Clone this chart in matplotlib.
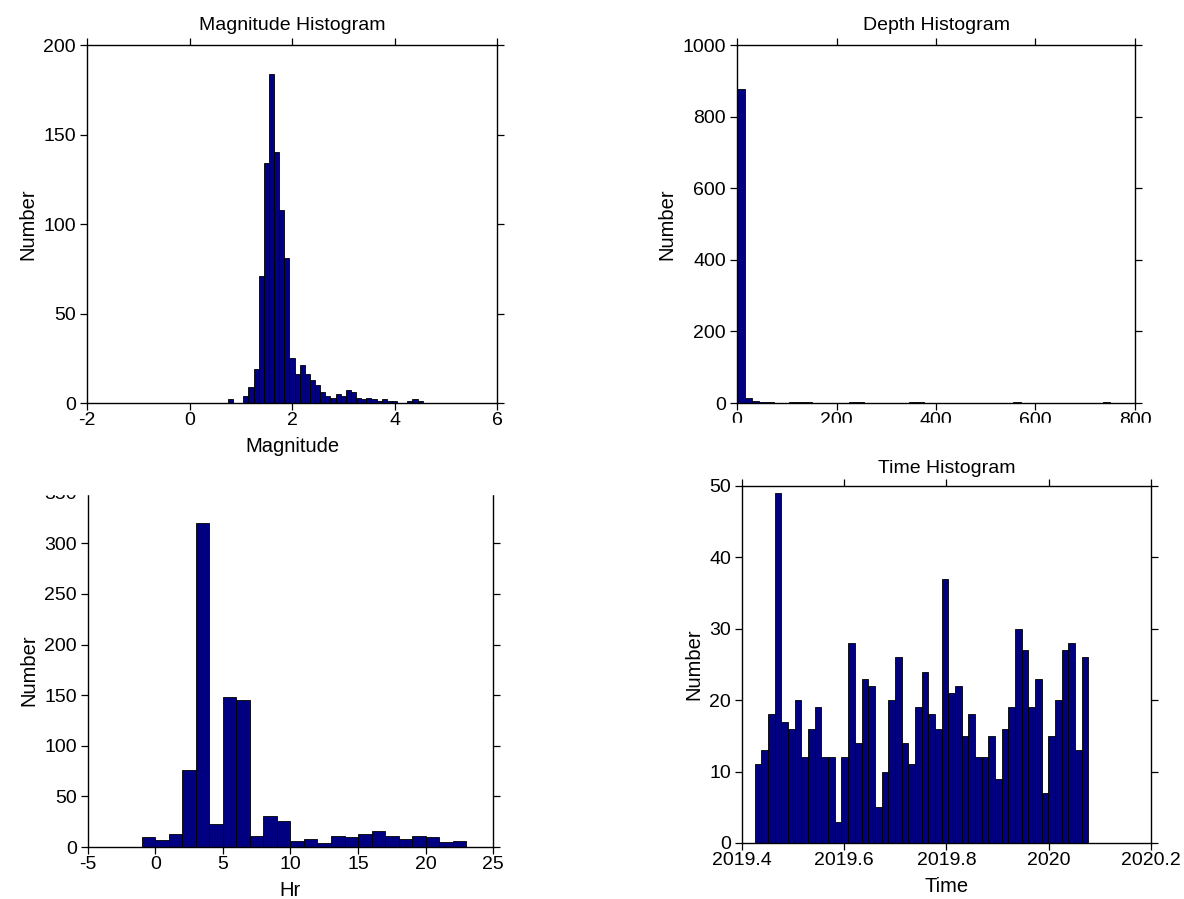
import numpy as np
import matplotlib
matplotlib.use("Agg")
import matplotlib.pyplot as plt
from matplotlib.patches import Rectangle

plt.rcParams['font.family'] = ['Liberation Sans', 'DejaVu Sans']
plt.rcParams['axes.unicode_minus'] = False

# magnitude histogram (bins of 0.1 centred on 0.8 ... 4.5)
mag_centros = np.round(np.arange(0.8, 4.55, 0.1), 1)
mag_contagem = [2, 0, 0, 4, 9, 19, 71, 134, 184, 140, 108, 81, 25, 16, 21, 16,
                13, 10, 6, 4, 3, 5, 4, 7, 6, 3, 2, 3, 2, 1, 2, 1, 1, 0, 0, 1, 2, 1]

# depth histogram (bins of 15 km from 0 to 750)
prof_bordas = np.arange(0, 751, 15)
prof_contagem = [878, 14, 6, 4, 2, 1, 1, 2, 2, 2, 1, 1, 0, 0, 1, 2, 2, 1, 0, 0,
                 0, 0, 1, 2, 2, 1, 0, 0, 0, 0, 0, 0, 0, 0, 0, 0, 1, 2, 1, 0,
                 0, 0, 0, 0, 0, 0, 0, 0, 1, 2]

# hour of day histogram (bins -1..23)
hora_bordas = np.arange(-1, 24, 1)
hora_contagem = [10, 7, 13, 76, 320, 23, 148, 145, 11, 31, 26, 6, 8, 4, 11, 10,
                 13, 16, 11, 8, 11, 10, 5, 6]

# time histogram (50 bins, decimal years)
tempo_inicio = 2019.4248
tempo_fim = 2020.0778
tempo_contagem = [11, 13, 18, 49, 17, 16, 20, 12, 16, 19,
                  12, 12, 3, 12, 28, 14, 23, 22, 5, 10,
                  20, 26, 14, 11, 19, 24, 18, 16, 37, 21,
                  22, 15, 18, 12, 12, 15, 9, 16, 19, 30,
                  27, 19, 23, 7, 15, 20, 27, 28, 13, 26]

cor_barra = '#000080'
fs_tick = 14
fs_label = 14.5
fs_titulo = 14


def estilo(ax):
    ax.tick_params(direction='out', length=5, width=0.9, top=True, right=True,
                   labelsize=fs_tick)
    ax.tick_params(axis='x', pad=1.5)
    ax.tick_params(axis='y', pad=3)
    for s in ax.spines.values():
        s.set_linewidth(1.0)


def barras(ax, bordas, contagem):
    bordas = np.asarray(bordas, dtype=float)
    ax.bar(bordas[:-1], contagem, width=np.diff(bordas), align='edge',
           color=cor_barra, edgecolor='black', linewidth=0.6)


def textos(ax, titulo, xlab, pad_titulo=11):
    ax.set_title(titulo, fontsize=fs_titulo, pad=pad_titulo)
    ax.set_xlabel(xlab, fontsize=fs_label, labelpad=6)
    ax.set_ylabel('Number', fontsize=fs_label, labelpad=4)


fig = plt.figure(figsize=(11.84, 8.99), dpi=100)

# Magnitude
ax1 = fig.add_axes([0.0735, 0.5517, 0.3463, 0.3982])
mag_bordas = np.append(mag_centros - 0.05, mag_centros[-1] + 0.05)
barras(ax1, mag_bordas, mag_contagem)
ax1.set_xlim(-2, 6)
ax1.set_ylim(0, 200)
ax1.set_xticks([-2, 0, 2, 4, 6])
ax1.set_yticks([0, 50, 100, 150, 200])
textos(ax1, 'Magnitude Histogram', 'Magnitude')
estilo(ax1)

# Depth
ax2 = fig.add_axes([0.6225, 0.5517, 0.3361, 0.3982])
barras(ax2, prof_bordas, prof_contagem)
ax2.set_xlim(0, 800)
ax2.set_ylim(0, 1000)
ax2.set_xticks([0, 200, 400, 600, 800])
ax2.set_yticks([0, 200, 400, 600, 800, 1000])
textos(ax2, 'Depth Histogram', 'Depth')
estilo(ax2)

# Hour
ax3 = fig.add_axes([0.0743, 0.0578, 0.3421, 0.3941])
barras(ax3, hora_bordas, hora_contagem)
ax3.set_xlim(-5, 25)
ax3.set_ylim(0, 350)
ax3.set_xticks([-5, 0, 5, 10, 15, 20, 25])
ax3.set_yticks([0, 50, 100, 150, 200, 250, 300, 350])
textos(ax3, 'Hr Histogram', 'Hr')
estilo(ax3)

# Time
ax4 = fig.add_axes([0.6267, 0.0623, 0.3454, 0.3971])
tempo_bordas = np.linspace(tempo_inicio, tempo_fim, len(tempo_contagem) + 1)
barras(ax4, tempo_bordas, tempo_contagem)
ax4.set_xlim(2019.4, 2020.2)
ax4.set_ylim(0, 50)
ax4.set_xticks([2019.4, 2019.6, 2019.8, 2020.0, 2020.2])
ax4.set_xticklabels(['2019.4', '2019.6', '2019.8', '2020', '2020.2'])
ax4.set_yticks([0, 10, 20, 30, 40, 50])
textos(ax4, 'Time Histogram', 'Time', pad_titulo=9)
estilo(ax4)

# the lower plots sit over the edges of the upper ones
H = 899.0
W = 1184.0
fig.add_artist(Rectangle((0, (H - 494) / H), 560 / W, 33 / H,
                         transform=fig.transFigure, color='white', zorder=10))
fig.add_artist(Rectangle((600 / W, (H - 456) / H), 584 / W, 33 / H,
                         transform=fig.transFigure, color='white', zorder=10))

fig.savefig('out.png', dpi=100)
